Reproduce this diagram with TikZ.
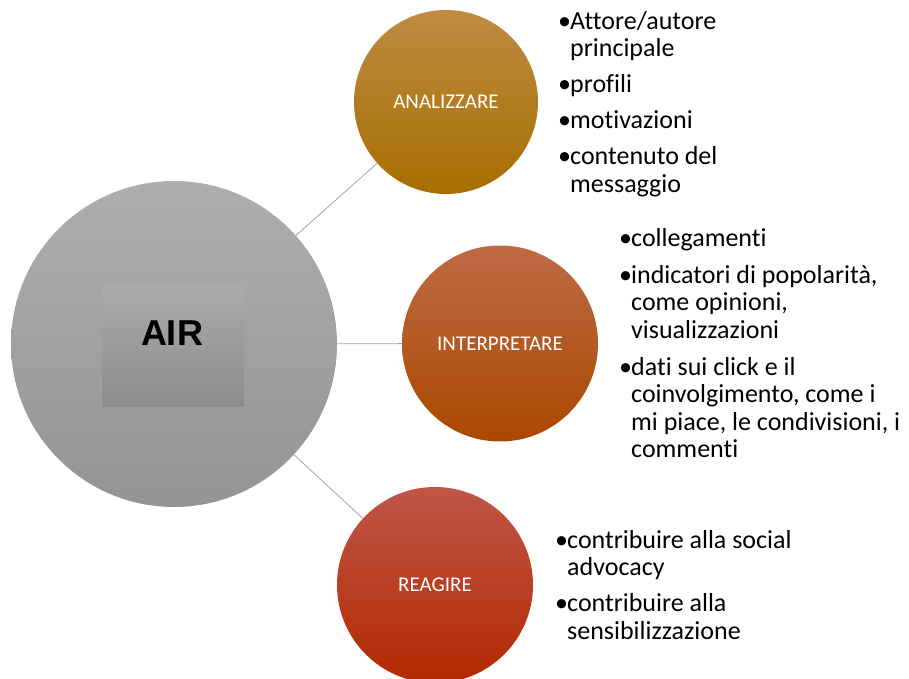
\documentclass[tikz,border=0pt]{standalone}
\usepackage{fontspec}
\setmainfont{Carlito}[Ligatures={CommonOff}]
\newfontfamily\airfont{Liberation Sans}
\definecolor{bigtop}{RGB}{174,174,174}
\definecolor{bigbot}{RGB}{148,148,148}
\definecolor{recttop}{RGB}{170,170,170}
\definecolor{rectbot}{RGB}{140,140,140}
\definecolor{anatop}{RGB}{190,139,66}
\definecolor{anabot}{RGB}{166,110,0}
\definecolor{inttop}{RGB}{190,106,70}
\definecolor{intbot}{RGB}{170,72,0}
\definecolor{reatop}{RGB}{192,86,72}
\definecolor{reabot}{RGB}{178,40,0}
\definecolor{linegray}{RGB}{165,165,165}
\newcommand{\bul}{\makebox[12pt][l]{•}}
\newcommand{\bulsp}{\hspace*{12pt}}
\begin{document}
\begin{tikzpicture}[x=1pt,y=1pt,
  conn/.style={draw=linegray, line width=0.8pt},
  sub/.style={circle, inner sep=0pt, text=white, font=\fontsize{21}{24}\selectfont},
  listbox/.style={anchor=north west, inner sep=0pt, align=left, text=black, font=\fontsize{26}{27.5}\selectfont}]
\useasboundingbox (0,0) rectangle (909,679);
\clip (0,0) rectangle (909,679);
\node[circle, minimum size=326pt, inner sep=0pt, top color=bigtop, bottom color=bigbot] (air) at (174,335) {};
\node[rectangle, minimum width=142pt, minimum height=121pt, inner sep=0pt, top color=recttop, bottom color=rectbot] (box) at (173,332.5) {};
\node[font=\airfont\bfseries\fontsize{36}{40}\selectfont, inner sep=0pt] (airtxt) at (172,346) {AIR};
\node[sub, minimum size=184pt, top color=anatop, bottom color=anabot] (ana) at (446,577) {ANALIZZARE};
\node[sub, minimum size=196pt, top color=inttop, bottom color=intbot] (int) at (500,335.5) {INTERPRETARE};
\node[sub, minimum size=196pt, top color=reatop, bottom color=reabot] (rea) at (435,94) {REAGIRE};
\draw[conn] (air) -- (ana);
\draw[conn] (air) -- (int);
\draw[conn] (air) -- (rea);
\node[listbox] (l1) at (558,672) {\rule{0pt}{22pt}\bul Attore/autore\\ \bulsp principale\\[8.5pt] \bul profili\\[8.5pt] \bul motivazioni\\[8.5pt] \bul contenuto del\\ \bulsp messaggio};
\node[listbox] (l2) at (619,455) {\rule{0pt}{22pt}\bul collegamenti\\[9.5pt] \bul indicatori di popolarità,\\ \bulsp come opinioni,\\ \bulsp visualizzazioni\\[9.5pt] \bul dati sui click e il\\ \bulsp coinvolgimento, come i\\ \bulsp mi piace, le condivisioni, i\\ \bulsp commenti};
\node[listbox] (l3) at (555,153) {\rule{0pt}{22pt}\bul contribuire alla social\\ \bulsp advocacy\\[8.5pt] \bul contribuire alla\\ \bulsp sensibilizzazione};
\end{tikzpicture}
\end{document}
